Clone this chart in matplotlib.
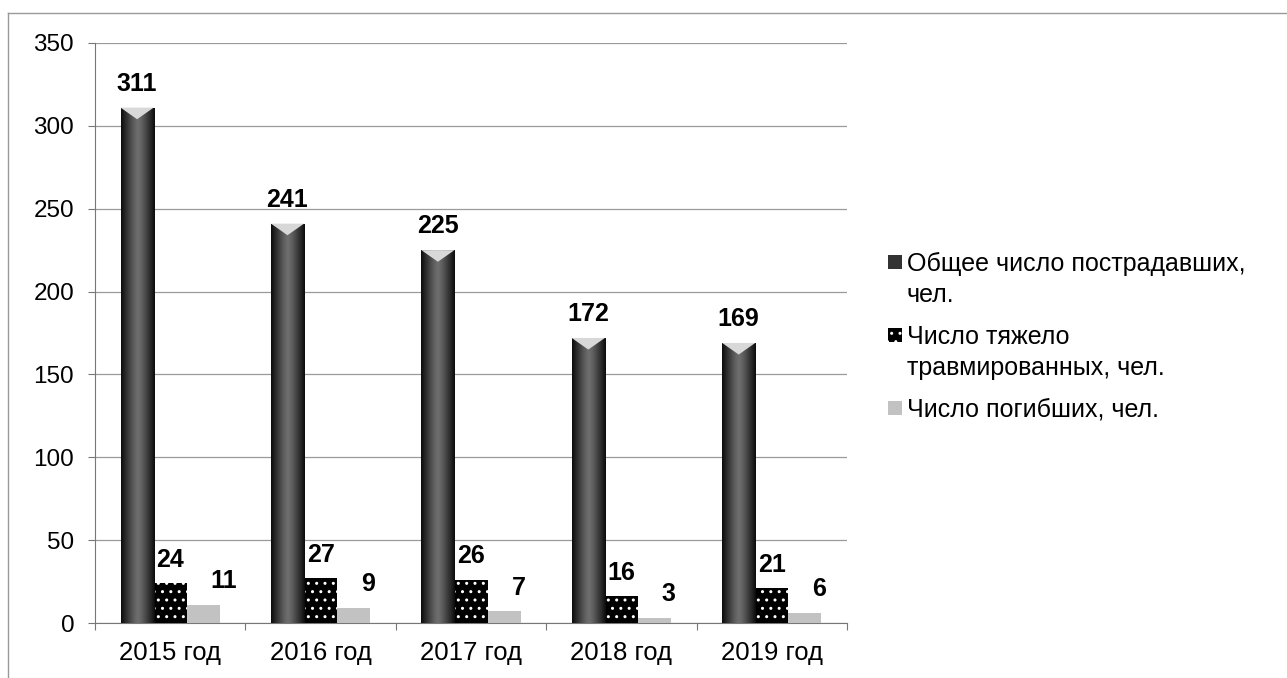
import numpy as np
import matplotlib.pyplot as plt
from matplotlib.patches import Rectangle, Polygon
from matplotlib.lines import Line2D
from matplotlib.colors import LinearSegmentedColormap

plt.rcParams['font.family'] = ['Liberation Sans', 'DejaVu Sans']

# Data
years = ['2015 год', '2016 год', '2017 год', '2018 год', '2019 год']
total = [311, 241, 225, 172, 169]
severe = [24, 27, 26, 16, 21]
killed = [11, 9, 7, 3, 6]
series_names = ['Общее число пострадавших,\nчел.',
                'Число тяжело\nтравмированных, чел.',
                'Число погибших, чел.']

fig = plt.figure(figsize=(12.87, 6.78), dpi=100)
ax = fig.add_axes([0.0738, 0.0811, 0.5843, 0.8555])

x = np.arange(len(years))
w = 0.22

b1 = ax.bar(x - w, total, w, color='#222222', linewidth=0, zorder=3)
b2 = ax.bar(x, severe, w, color='black', edgecolor='white', hatch='..',
            linewidth=0, zorder=3)
b3 = ax.bar(x + w, killed, w, color='#c2c2c2', linewidth=0, zorder=3)

# shaded look for the tall bars
shade = LinearSegmentedColormap.from_list('shade', ['#6e6e6e', '#3a3a3a', '#0c0c0c'])
grad = np.abs(np.linspace(-1, 1, 64)) ** 1.3
grad = grad[np.newaxis, :]
for p in b1:
    x0, h = p.get_x(), p.get_height()
    im = ax.imshow(grad, cmap=shade, vmin=0, vmax=1, aspect='auto',
                   extent=[x0, x0 + w, 0, h], zorder=3.5, interpolation='bilinear')
    im.set_clip_path(p)
    tri = Polygon([[x0, h], [x0 + w, h], [x0 + w / 2, h - 7]],
                  closed=True, color='#d8d8d8', linewidth=0, zorder=4)
    ax.add_patch(tri)

for bars, dx, ha in [(b1, 0, 'center'), (b2, 0, 'center'), (b3, 0.05, 'left')]:
    for p in bars:
        v = p.get_height()
        ax.annotate(f'{v:g}', (p.get_x() + p.get_width() / 2 + dx, v),
                    xytext=(0, 12), textcoords='offset points',
                    ha=ha, va='baseline', fontsize=18, fontweight='bold')

ax.set_xlim(-0.5, 4.5)
ax.set_ylim(0, 350)
ax.set_yticks(np.arange(0, 351, 50))
ax.set_xticks(x)
ax.set_xticklabels(years)
ax.set_xticks(np.arange(-0.5, 4.6, 1), minor=True)
ax.tick_params(axis='x', which='major', length=0, pad=13, labelsize=18.5)
ax.tick_params(axis='x', which='minor', length=5, color='#777777', width=0.8)
ax.tick_params(axis='y', length=5, color='#777777', width=0.8, pad=10,
               labelsize=17.5)
ax.yaxis.grid(True, color='#9a9a9a', linewidth=0.9, zorder=0)
ax.set_axisbelow(True)
for s in ['top', 'right']:
    ax.spines[s].set_visible(False)
for s in ['left', 'bottom']:
    ax.spines[s].set_color('#777777')
    ax.spines[s].set_linewidth(0.8)

# legend drawn by hand so the marker sits on the first line
styles = [dict(facecolor='#333333'),
          dict(facecolor='black', edgecolor='white', hatch='..'),
          dict(facecolor='#c2c2c2')]
rows_y = [262, 335, 408]
line_gap = 31
for name, st, yc in zip(series_names, styles, rows_y):
    yf = 1 - yc / 678
    fig.patches.append(Rectangle((888 / 1287, yf - 7 / 678), 14 / 1287, 14 / 678,
                                 transform=fig.transFigure, linewidth=0, **st))
    for k, line in enumerate(name.split('\n')):
        fig.text(907 / 1287, 1 - (yc + 9 + k * line_gap) / 678, line,
                 fontsize=18, va='baseline', ha='left')

# outer frame of the chart area
fig.add_artist(Line2D([8 / 1287, 1], [1 - 13 / 678, 1 - 13 / 678],
                      transform=fig.transFigure, color='#999999', lw=1))
fig.add_artist(Line2D([8 / 1287, 8 / 1287], [0, 1 - 13 / 678],
                      transform=fig.transFigure, color='#999999', lw=1))

fig.savefig('out.png', dpi=100)
